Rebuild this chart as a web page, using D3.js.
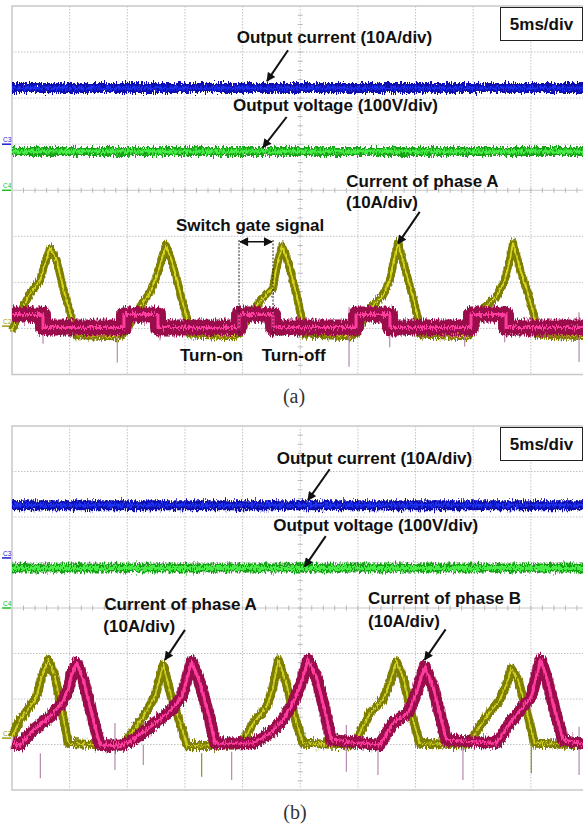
<!DOCTYPE html>
<html>
<head>
<meta charset="utf-8">
<script src="https://cdn.jsdelivr.net/npm/d3@7"></script>
<style>
body{margin:0;background:#fff;}
svg{display:block;}
.lbl{font-family:"Liberation Sans",Arial,sans-serif;font-weight:bold;font-size:17px;fill:#111;}
.cap{font-family:"Liberation Serif","Times New Roman",serif;font-size:20px;fill:#333;}
</style>
</head>
<body>
<svg width="583" height="825"></svg>
<script>
// scope screen: 10 div x 5 ms, 8 vertical divisions (values below are in divisions)
var timeDomain=[0,50];
var divDomain=[-4,4];

// flat channels, [panel a, panel b]
var outputCurrentLevel=[2.22,2.26];
var outputVoltageLevel=[0.84,0.88];

// channel ground markers
var markerNames=["C3","C4","C2"];
var markerLevelsA=[1.0,0,-2.95];
var markerLevelsB=[1.1,0,-2.86];

// (a) switch gate signal, step
var gateA=[[0,-2.70],[2.69,-2.98],[9.71,-2.70],[12.66,-2.98],[19.69,-2.70],[22.64,-2.98],
    [29.84,-2.70],[32.78,-2.98],[39.81,-2.70],[42.85,-2.98],[50,-2.98]];

// (a) current of phase A
var phaseA_a=[[0,-3.04],[0.69,-2.67],[1.56,-2.24],[2.43,-1.96],[2.86,-1.59],[3.30,-1.26],[3.88,-1.52],[4.42,-2.11],[5.18,-2.78],[5.6,-3.15],
    [9.19,-3.17],[9.71,-3.11],[10.49,-2.78],[11.36,-2.43],[11.97,-2.22],[12.58,-1.85],[13.01,-1.48],[13.36,-1.20],[13.79,-1.48],[14.31,-1.96],[14.74,-2.39],[15.18,-2.78],[15.44,-3.13],
    [19.25,-3.17],[19.77,-3.11],[20.47,-2.78],[21.34,-2.46],[22.03,-2.28],[22.64,-2.11],[22.98,-1.63],[23.42,-1.22],[23.85,-1.48],[24.37,-1.96],[24.80,-2.39],[25.15,-2.83],[25.41,-3.13],
    [29.40,-3.17],[29.84,-3.11],[31.02,-2.57],[32.18,-2.28],[32.76,-1.96],[33.19,-1.45],[33.48,-1.15],[34.20,-1.80],[34.78,-2.32],[35.21,-2.79],[35.39,-3.13],
    [39.38,-3.17],[39.81,-3.11],[40.85,-2.57],[42.00,-2.32],[42.73,-1.96],[43.17,-1.52],[43.45,-1.15],[44.17,-1.80],[44.75,-2.24],[45.33,-2.78],[45.53,-3.13],
    [50,-3.17]];

// (b) current of phase A
var phaseA_b=[[0,-2.83],[0.69,-2.46],[1.56,-2.17],[2.14,-1.95],[2.58,-1.51],[3.15,-1.14],[3.73,-1.51],[4.31,-2.24],[4.88,-2.97],
    [7.63,-3.01],[9.37,-3.03],[9.95,-2.90],[11.36,-2.39],[12.40,-1.95],[12.84,-1.51],[13.12,-1.25],[13.85,-1.98],[14.57,-2.53],[15.20,-3.03],
    [19.43,-3.01],[20.06,-2.90],[20.93,-2.53],[22.09,-2.17],[22.66,-1.73],[23.10,-1.14],[23.79,-1.65],[24.52,-2.39],[25.24,-2.97],
    [29.49,-3.01],[30.01,-2.83],[31.02,-2.31],[32.18,-2.02],[32.76,-1.65],[33.33,-1.18],[33.91,-1.51],[34.63,-2.31],[35.36,-2.97],
    [39.46,-3.01],[39.98,-2.83],[41.14,-2.39],[42.30,-2.02],[42.87,-1.69],[43.30,-1.33],[43.89,-1.58],[44.61,-2.24],[45.33,-2.97],
    [50,-3.01]];

// (b) current of phase B
var phaseB_b=[[0,-2.97],[0.69,-3.01],[1.85,-2.68],[3.30,-2.39],[4.31,-2.09],[4.88,-1.80],[5.18,-1.44],[5.61,-1.22],[6.18,-1.58],[6.76,-2.17],[7.35,-2.75],[7.63,-3.01],
    [9.37,-3.03],[10.49,-2.90],[12.40,-2.53],[13.85,-2.24],[14.72,-1.95],[15.15,-1.58],[15.59,-1.18],[16.31,-1.65],[17.17,-2.46],[17.61,-2.97],
    [20.90,-2.97],[22.38,-2.75],[23.50,-2.46],[24.37,-2.09],[25.09,-1.65],[25.67,-1.14],[26.39,-1.51],[27.12,-2.24],[27.69,-2.90],
    [31.89,-3.01],[33.04,-2.53],[34.35,-2.31],[35.07,-1.87],[35.79,-1.29],[36.51,-1.73],[37.09,-2.31],[37.67,-2.90],
    [42.00,-2.97],[43.17,-2.53],[44.32,-2.17],[45.04,-1.95],[45.47,-1.51],[45.85,-1.14],[46.34,-1.51],[47.07,-2.24],[47.79,-2.90],
    [50,-3.01]];

// noise spikes [time, from, to]
var spikesA=[[2.69,-2.98,-3.33],[9.13,-3.0,-3.74],[12.84,-2.98,-3.26],[19.14,-2.57,-3.1],[29.23,-2.54,-3.83],
    [32.76,-2.98,-3.41],[39.26,-2.98,-3.39],[42.73,-2.98,-3.30],[49.18,-2.65,-3.73]];
var spikesB=[[2.46,-3.19,-3.74],[8.93,-2.53,-3.56],[11.39,-3.0,-3.45],[19.05,-3.16,-3.78],[29.0,-2.57,-3.60],
    [31.74,-2.97,-3.67],[39.11,-3.05,-3.78],[49.18,-2.61,-3.67]];
var spikesOliveB=[[16.45,-3.19,-3.71],[45.04,-3.05,-3.63]];

// annotations, in time / divisions
var textsA=[["Output current (10A/div)",19.49,3.20],["Output voltage (100V/div)",19.17,1.71],
    ["Current of phase A",28.99,0.08],["(10A/div)",28.97,-0.39],["Switch gate signal",14.22,-0.88],
    ["Turn-on",14.57,-3.70],["Turn-off",21.66,-3.70]];
var arrowsA=[[23.94,3.04,22.12,2.37],[23.82,1.59,21.77,0.93],[35.36,-0.47,33.48,-1.16]];
var textsB=[["Output current (10A/div)",22.96,3.16],["Output voltage (100V/div)",22.66,1.70],
    ["Current of phase A",8.01,-0.04],["(10A/div)",7.92,-0.52],
    ["Current of phase B",30.88,0.08],["(10A/div)",30.88,-0.41]];
var arrowsB=[[27.55,3.05,25.67,2.37],[27.21,1.58,25.39,0.91],[15.00,-0.48,13.27,-1.14],[37.61,-0.47,35.79,-1.14]];

var svg=d3.select("svg");
svg.append("rect").attr("width",583).attr("height",825).attr("fill","#fff");

var defs=svg.append("defs");
var jit=defs.append("filter").attr("id","jitter").attr("filterUnits","userSpaceOnUse")
    .attr("x",0).attr("y",0).attr("width",583).attr("height",825);
jit.append("feTurbulence").attr("type","fractalNoise").attr("baseFrequency","0.9 0.2")
    .attr("numOctaves",2).attr("seed",4).attr("result","n");
jit.append("feColorMatrix").attr("in","n").attr("type","matrix")
    .attr("values","0 0 0 0 0.5  0 1 0 0 0  0 0 0 0 0  0 0 0 0 1").attr("result","m");
jit.append("feDisplacementMap").attr("in","SourceGraphic").attr("in2","m").attr("scale",9)
    .attr("xChannelSelector","R").attr("yChannelSelector","G");

defs.append("marker").attr("id","arrow").attr("viewBox","0 0 10 10").attr("refX",9).attr("refY",5)
    .attr("markerUnits","userSpaceOnUse").attr("markerWidth",10).attr("markerHeight",9)
    .attr("orient","auto-start-reverse")
    .append("path").attr("d","M0,0L10,5L0,10z").attr("fill","#111");

var x=d3.scaleLinear().domain(timeDomain).range([12,588.5]);

function drawPanel(top,bottom,markerLevels)
{
    var y=d3.scaleLinear().domain(divDomain).range([bottom,top]);
    var g=svg.append("g").attr("class","panel");

    //graticule
    g.selectAll("line.vgrid").data(x.ticks(10).filter(function(d){return d>0;}))
        .enter().append("line").attr("class","vgrid")
        .attr("x1",function(d){return x(d);}).attr("x2",function(d){return x(d);})
        .attr("y1",top).attr("y2",bottom)
        .attr("stroke","#c2c2c2").attr("stroke-dasharray","1.5,1.5");
    g.selectAll("line.hgrid").data(y.ticks(8).filter(function(d){return d>-4 && d<4 && d!=0;}))
        .enter().append("line").attr("class","hgrid")
        .attr("x1",x(0)).attr("x2",x(50))
        .attr("y1",function(d){return y(d);}).attr("y2",function(d){return y(d);})
        .attr("stroke","#c2c2c2").attr("stroke-dasharray","1.5,1.5");

    //center axis with minor ticks
    g.append("line").attr("x1",x(0)).attr("x2",x(50)).attr("y1",y(0)).attr("y2",y(0)).attr("stroke","#c8c8c8");
    g.selectAll("line.xminor").data(d3.range(1,50,1)).enter().append("line").attr("class","xminor")
        .attr("x1",function(d){return x(d);}).attr("x2",function(d){return x(d);})
        .attr("y1",y(0)-2.5).attr("y2",y(0)+2.5).attr("stroke","#b8b8b8");
    g.selectAll("line.yminor").data(d3.range(-3.8,4,0.2)).enter().append("line").attr("class","yminor")
        .attr("x1",x(25)-2.5).attr("x2",x(25)+2.5)
        .attr("y1",function(d){return y(d);}).attr("y2",function(d){return y(d);}).attr("stroke","#b8b8b8");

    //frame
    g.append("path").attr("d","M"+x(50)+","+top+"H"+x(0)+"V"+bottom+"H"+x(50))
        .attr("fill","none").attr("stroke","#c8c8c8").attr("stroke-width",1.5);

    //channel markers
    var mColors=["#1a1ad0","#22c022","#9a9a10"];
    markerNames.forEach(function(m,i){
        g.append("line").attr("x1",2).attr("x2",11).attr("y1",y(markerLevels[i])).attr("y2",y(markerLevels[i]))
            .attr("stroke",mColors[i]).attr("stroke-width",1.5);
        g.append("text").attr("x",3).attr("y",y(markerLevels[i])-2).text(m)
            .style("font-family","Liberation Sans,Arial,sans-serif").style("font-size","6.5px").style("fill",mColors[i]);
    });

    //time base box
    g.append("rect").attr("x",500.5).attr("y",top+1.5).attr("width",82).attr("height",33)
        .attr("fill","#fff").attr("stroke","#222").attr("stroke-width",1);
    g.append("text").attr("class","lbl").attr("x",541.5).attr("y",top+24).attr("text-anchor","middle").text("5ms/div");

    return y;
}

function trace(g,pts,y,outer,outerW,core,coreW,curve)
{
    var line=d3.line().x(function(d){return x(d[0]);}).y(function(d){return y(d[1]);}).curve(curve||d3.curveLinear);
    var t=g.append("g").attr("filter","url(#jitter)");
    t.append("path").datum(pts).attr("d",line).attr("fill","none")
        .attr("stroke",outer).attr("stroke-width",outerW).attr("stroke-linejoin","round");
    t.append("path").datum(pts).attr("d",line).attr("fill","none")
        .attr("stroke",core).attr("stroke-width",coreW).attr("stroke-linejoin","round");
}

function spikes(g,data,y,color)
{
    g.selectAll(null).data(data).enter().append("line")
        .attr("x1",function(d){return x(d[0]);}).attr("x2",function(d){return x(d[0]);})
        .attr("y1",function(d){return y(d[1]);}).attr("y2",function(d){return y(d[2]);})
        .attr("stroke",color).attr("stroke-width",1.2);
}

function annotate(g,texts,arrows,y)
{
    g.selectAll(null).data(texts).enter().append("text").attr("class","lbl")
        .attr("x",function(d){return x(d[1]);}).attr("y",function(d){return y(d[2]);})
        .text(function(d){return d[0];});
    g.selectAll(null).data(arrows).enter().append("line")
        .attr("x1",function(d){return x(d[0]);}).attr("y1",function(d){return y(d[1]);})
        .attr("x2",function(d){return x(d[2]);}).attr("y2",function(d){return y(d[3]);})
        .attr("stroke","#111").attr("stroke-width",2).attr("marker-end","url(#arrow)");
}

function flat(v){return [[0,v],[50,v]];}

//Panel (a)
var yA=drawPanel(6,374.5,markerLevelsA);
var gA=svg.append("g");
trace(gA,flat(outputCurrentLevel[0]),yA,"#0a0fb0",10,"#1c30f0",3);
trace(gA,flat(outputVoltageLevel[0]),yA,"#14a014",9,"#46ec46",4);
trace(gA,phaseA_a,yA,"#7e7e00",8,"#d6d620",1.8);
spikes(gA,spikesA,yA,"#b48aae");
trace(gA,gateA,yA,"#9a0a4c",16,"#ff3d9e",3,d3.curveStepAfter);
annotate(gA,textsA,arrowsA,yA);

//switch gate signal width marker
[gateA[4][0],gateA[5][0]].forEach(function(t){
    gA.append("line").attr("x1",x(t)).attr("x2",x(t)).attr("y1",yA(-1.08)).attr("y2",yA(-3.2))
        .attr("stroke","#222").attr("stroke-width",1).attr("stroke-dasharray","2,1.5");
});
gA.append("line").attr("x1",x(gateA[4][0])+1).attr("x2",x(gateA[5][0])-1).attr("y1",yA(-1.12)).attr("y2",yA(-1.12))
    .attr("stroke","#111").attr("stroke-width",1.5)
    .attr("marker-start","url(#arrow)").attr("marker-end","url(#arrow)");

svg.append("text").attr("class","cap").attr("x",294).attr("y",403).attr("text-anchor","middle").text("(a)");

//Panel (b)
var yB=drawPanel(426,790,markerLevelsB);
var gB=svg.append("g");
trace(gB,flat(outputCurrentLevel[1]),yB,"#0a0fb0",10,"#1c30f0",3);
trace(gB,flat(outputVoltageLevel[1]),yB,"#14a014",9,"#46ec46",4);
spikes(gB,spikesOliveB,yB,"#8f8f20");
trace(gB,phaseA_b,yB,"#7e7e00",9,"#cfcf28",1.8);
spikes(gB,spikesB,yB,"#b48aae");
trace(gB,phaseB_b,yB,"#9a0a4c",12,"#ff3d9e",3);
annotate(gB,textsB,arrowsB,yB);

svg.append("text").attr("class","cap").attr("x",295).attr("y",819).attr("text-anchor","middle").text("(b)");
</script>
</body>
</html>
